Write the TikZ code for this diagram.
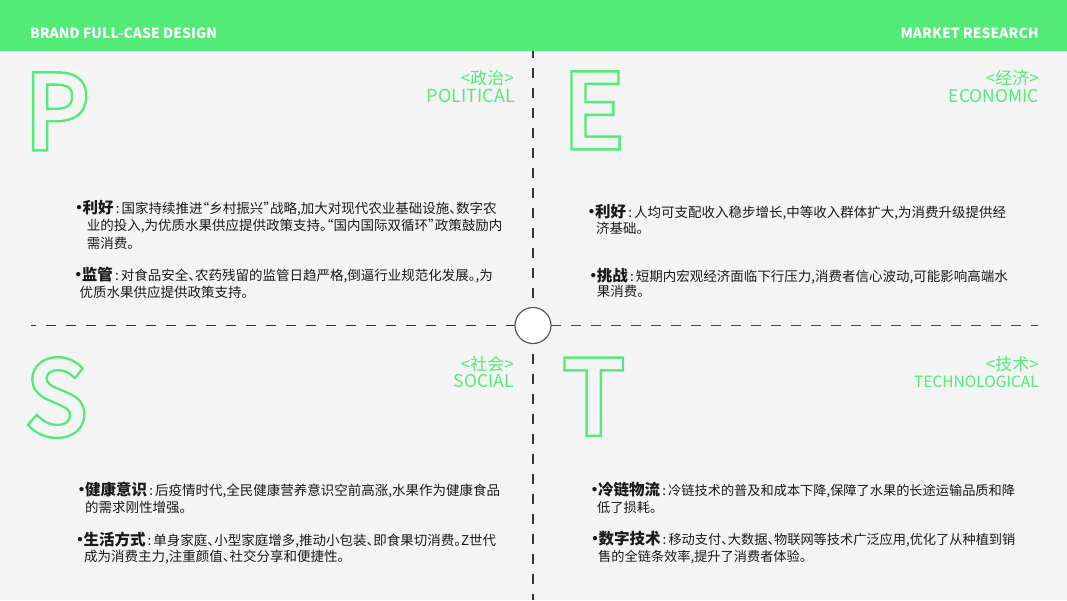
\documentclass[tikz,border=0pt]{standalone}
\usepackage{fontspec}
\setmainfont{Noto Sans CJK SC}[RawFeature=+halt]
\newfontfamily\bigfont{Noto Sans CJK SC}
\definecolor{pgreen}{HTML}{52EB78}
\definecolor{bgc}{HTML}{F4F4F4}
\definecolor{dashc}{HTML}{333333}
\definecolor{txt}{HTML}{1A1A1A}
% outline of the glyph dilated by 2.4pt, stroked 2.4pt wide
\newcommand\outl[1]{%
\rlap{\special{pdf:literal direct 2 Tr 7.2 w 0 j 10 M 0.318 0.922 0.471 rg 0.318 0.922 0.471 RG}#1}%
\rlap{\special{pdf:literal direct 2 Tr 2.4 w 0.957 0.957 0.957 rg 0.957 0.957 0.957 RG}#1}%
\special{pdf:literal direct 0 Tr}\phantom{#1}}
\newcommand\hd[1]{{\fontsize{15.5}{15.5}\selectfont\bfseries\makebox[7pt][c]{•}#1}\makebox[8pt][c]{:}}
\tikzset{
  bigletter/.style={anchor=base west, inner sep=0, text=pgreen, font=\fontsize{100}{100}\bigfont},
  cnlabel/.style={anchor=base east, inner sep=0, text=pgreen, font=\fontsize{17}{17}\selectfont},
  enlabel/.style={anchor=base east, inner sep=0, text=pgreen, font=\fontsize{#1}{#1}\selectfont},
  body/.style={anchor=base west, inner sep=0, text=txt, font=\fontsize{13.5}{13.5}\selectfont},
  bodyt/.style={body, font=\fontsize{13.2}{13.2}\selectfont},
  header/.style={inner sep=0, text=white, font=\fontsize{14}{14}\selectfont\bfseries},
  dline/.style={draw=dashc, line width=1.3pt, dash pattern=on 10pt off 10pt}
}
\begin{document}
\begin{tikzpicture}[x=1pt,y=-1pt]
\useasboundingbox (0,0) rectangle (1067,600);
\fill[bgc] (0,0) rectangle (1067,600);
\fill[pgreen] (0,0) rectangle (1067,51);
\node[header, anchor=base west] (h1) at (30,38.5) {BRAND FULL-CASE DESIGN};
\node[header, anchor=base east] (h2) at (1039,38.5) {MARKET RESEARCH};

% dashed lines
\coordinate (vt) at (533,51);
\coordinate (vb) at (533,600);
\coordinate (hl) at (31,325.5);
\coordinate (hr) at (1038,325.5);
\node[circle, minimum size=36pt, inner sep=0] (c) at (533,325.5) {};
\draw[dline, dash phase=3pt] (vt) -- (c.north);
\draw[dline, dash phase=10pt] (c.south) -- (vb);
\draw[dline, dash phase=5pt] (hl) -- (c.west);
\draw[dline, draw=dashc!90] (c.east) -- (hr);
\draw[draw=black!65, fill=white, line width=1.2pt] (c.center) circle (18);

% big letters
\node[bigletter] (P) at (25.2,148) {\outl{P}};
\node[bigletter] (E) at (563.6,147) {\outl{E}};
\node[bigletter] (S) at (26.4,434.2) {\outl{S}};
\node[bigletter] (T) at (563.6,433.4) {\outl{T}};

% labels
\node[cnlabel] (l1a) at (514,84.5) {<政治>};
\node[enlabel=18] (l1b) at (515,102.5) {POLITICAL};
\node[cnlabel] (l2a) at (1039,84.5) {<经济>};
\node[enlabel=17.5] (l2b) at (1039,102.5) {ECONOMIC};
\node[cnlabel] (l3a) at (514,370.5) {<社会>};
\node[enlabel=17.5] (l3b) at (514,387) {SOCIAL};
\node[cnlabel] (l4a) at (1039,370.5) {<技术>};
\node[enlabel=15.5] (l4b) at (1039,387) {TECHNOLOGICAL};

% P texts
\node[body] (p11) at (75.5,213) {\hd{利好}国家持续推进“乡村振兴”战略,加大对现代农业基础设施、数字农};
\node[body] (p12) at (86.7,230.5) {业的投入,为优质水果供应提供政策支持。“国内国际双循环”政策鼓励内};
\node[body] (p13) at (86.7,248) {需消费。};
\node[body] (p21) at (74.7,280) {\hd{监管}对食品安全、农药残留的监管日趋严格,倒逼行业规范化发展。,为};
\node[body] (p22) at (79.3,297) {优质水果供应提供政策支持。};

% E texts
\node[body] (e11) at (588,217) {\hd{利好}人均可支配收入稳步增长,中等收入群体扩大,为消费升级提供经};
\node[body] (e12) at (596,233) {济基础。};
\node[body] (e21) at (589.7,281.5) {\hd{挑战}短期内宏观经济面临下行压力,消费者信心波动,可能影响高端水};
\node[body] (e22) at (596.7,296.5) {果消费。};

% S texts
\node[body] (s11) at (78,495) {\hd{健康意识}后疫情时代,全民健康营养意识空前高涨,水果作为健康食品};
\node[body] (s12) at (85,512.5) {的需求刚性增强。};
\node[body] (s21) at (76.3,545) {\hd{生活方式}单身家庭、小型家庭增多,推动小包装、即食果切消费。Z世代};
\node[body] (s22) at (84,561.5) {成为消费主力,注重颜值、社交分享和便捷性。};

% T texts
\node[bodyt] (t11) at (591,495) {\hd{冷链物流}冷链技术的普及和成本下降,保障了水果的长途运输品质和降};
\node[bodyt] (t12) at (597,512.5) {低了损耗。};
\node[bodyt] (t21) at (591.3,544) {\hd{数字技术}移动支付、大数据、物联网等技术广泛应用,优化了从种植到销};
\node[bodyt] (t22) at (598,561.5) {售的全链条效率,提升了消费者体验。};
\end{tikzpicture}
\end{document}
